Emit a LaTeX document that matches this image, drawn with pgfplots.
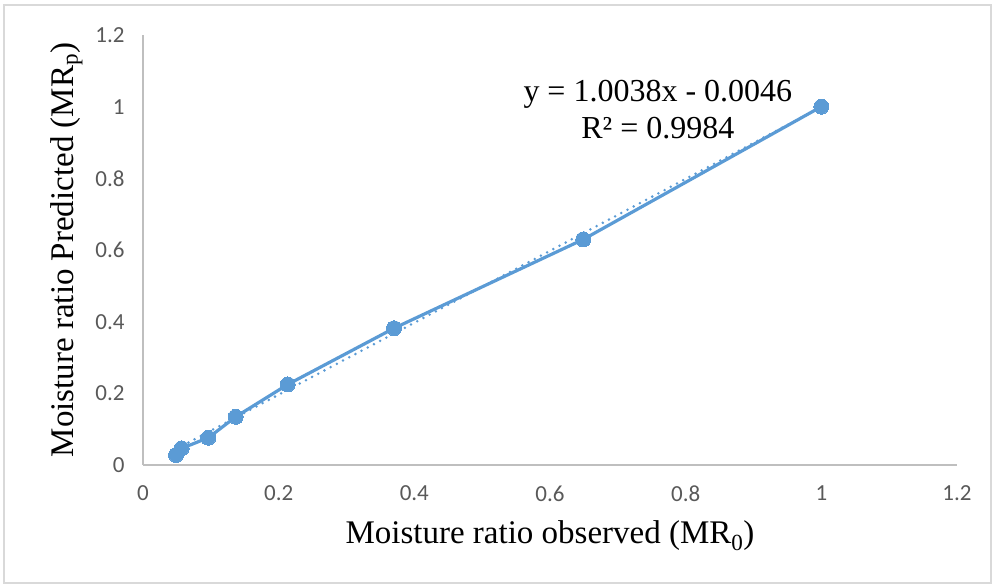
\documentclass[border=0pt]{standalone}
\usepackage{pgfplots}
\pgfplotsset{compat=1.18}
\usepackage{fontspec}
\setmainfont{Liberation Serif}
\newfontfamily\calib{Carlito}
\definecolor{excelblue}{HTML}{5B9BD5}
\definecolor{axgray}{HTML}{BFBFBF}
\definecolor{framegray}{HTML}{D9D9D9}
\definecolor{ticktext}{HTML}{595959}
\begin{document}
\begin{tikzpicture}
\begin{axis}[
  scale only axis,
  width=814pt, height=430pt,
  xmin=0, xmax=1.2, ymin=0, ymax=1.2,
  axis x line=bottom, axis y line=left,
  axis line style={axgray, line width=1.5pt, -},
  xtick={0,0.2,0.4,0.6,0.8,1,1.2},
  ytick={0,0.2,0.4,0.6,0.8,1,1.2},
  xticklabels={0,0.2,0.4,0.6,0.8,1,1.2},
  yticklabels={0,0.2,0.4,0.6,0.8,1,1.2},
  major tick length=0pt,
  tick style={draw=none},
  xticklabel style={font=\calib\fontsize{23}{23}\selectfont, text=ticktext, yshift=-17pt},
  yticklabel style={font=\calib\fontsize{23}{23}\selectfont, text=ticktext, xshift=-15pt},
  xlabel={Moisture ratio observed (MR\textsubscript{0})},
  ylabel={Moisture ratio Predicted (MR\textsubscript{p})},
  xlabel style={font=\fontsize{33}{38}\selectfont, at={(axis description cs:0.5,-0.1837)}, anchor=base},
  ylabel style={font=\fontsize{33}{38}\selectfont, at={(axis description cs:-0.0848,0.5)}, anchor=base},
  clip=false,
]
\addplot[excelblue, line width=2.8pt, dash pattern=on 0pt off 7pt, line cap=round]
  coordinates {(0.0487,0.0443) (1,0.9992)};
\addplot[excelblue, line width=3.2pt, mark=*, mark size=7.5pt, mark options={solid, fill=excelblue, draw=excelblue, line width=0pt}]
  coordinates {
  (0.0487,0.0280)
  (0.0570,0.0465)
  (0.0963,0.0760)
  (0.1367,0.1345)
  (0.2134,0.2248)
  (0.3700,0.3816)
  (0.6490,0.6295)
  (1.0000,1.0000)
  };
\node[font=\fontsize{32}{37}\selectfont, align=center] at (axis cs:0.759,0.993)
  {y = 1.0038x - 0.0046\\R² = 0.9984};
\coordinate (bbsw) at (rel axis cs:-0.1757,-0.2791);
\coordinate (bbne) at (rel axis cs:1.0467,1.0814);
\coordinate (frsw) at (rel axis cs:-0.1708,-0.2744);
\coordinate (frne) at (rel axis cs:1.0418,1.0698);
\end{axis}
\draw[framegray, line width=1.5pt] (frsw) rectangle (frne);
\pgfresetboundingbox
\path[use as bounding box] (bbsw) rectangle (bbne);
\end{tikzpicture}
\end{document}
